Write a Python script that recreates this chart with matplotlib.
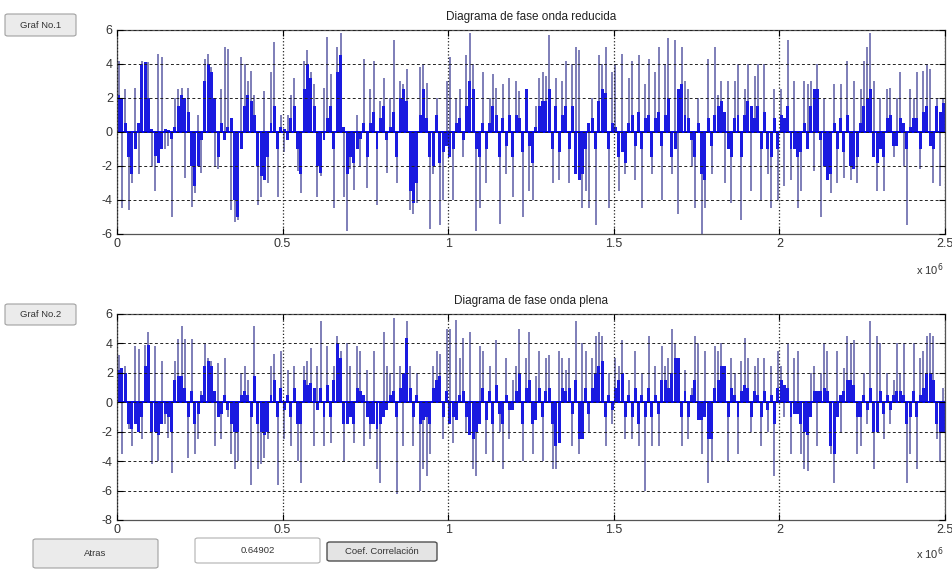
import numpy as np
import matplotlib
matplotlib.use('Agg')
import matplotlib.pyplot as plt
from matplotlib.patches import FancyBboxPatch
from matplotlib.ticker import FuncFormatter

plt.rcParams['font.family'] = ['Liberation Sans', 'DejaVu Sans']
plt.rcParams['axes.unicode_minus'] = False

# muestras cada 10000 puntos, 250 por señal
paso = 1e4

# onda reducida: cuerpo (zona densa) y picos sueltos
red_cuerpo = [
    2.2, 2.0, 0.5, -1.5, -2.5, -1.0, 0.5, 4.0, 4.1, 2.0, 0.2, -1.4, -1.8, -1.0, 0.2, 0.1, -0.4, 0.3, 1.5, 2.2, 2.0, 1.2, -2.0, -3.2, -2.0,
    -0.5, 3.0, 4.0, 3.5, 2.0, -1.5, 0.5, -0.5, 0.3, 0.8, -4.0, -5.0, -1.0, 1.5, 2.2, 1.8, 1.0, -2.0, -2.6, -2.8, -1.5, 0.5, 1.5, -1.0, 0.3,
    0.2, -0.5, 0.8, 1.5, -1.0, -2.5, 2.5, 4.0, 3.2, 1.5, -2.0, -2.4, -0.5, 0.8, 1.5, -1.0, 3.5, 4.5, 0.3, -2.5, -1.5, -1.8, -1.0, -0.4, 0.5,
    -1.5, 0.5, 1.2, -1.0, 0.8, 1.5, -0.5, 0.3, 1.2, -1.5, 2.0, 2.5, 1.8, -3.5, -4.2, -3.0, 1.0, 2.5, 0.8, -1.5, -2.0, 1.0, -1.8, -1.2, -0.8,
    -1.5, -1.0, 0.5, 0.8, -0.5, 1.5, 3.0, 2.5, -1.0, -1.5, 0.5, -1.0, 0.5, 1.5, 1.0, -1.5, 0.8, -0.8, 1.0, -1.5, 1.0, 0.8, -1.2, 2.5, -0.8,
    -1.8, 0.3, 1.5, 1.8, 1.8, 2.5, -1.0, 1.5, -1.2, 1.0, 1.5, -1.0, 1.5, -2.5, -2.8, -2.5, -1.0, 0.5, 0.8, -1.0, 1.8, 2.5, 2.3, -1.0, 0.5,
    0.3, -1.5, -1.2, -1.8, 0.5, 1.0, -0.8, 1.2, -1.0, 0.8, 1.0, -1.5, 0.8, 1.2, -0.8, 1.0, 2.0, -1.5, -1.0, 2.5, 2.8, 1.0, 0.8, -0.5, -1.5,
    0.5, -2.5, -2.8, 0.8, -0.8, 1.0, 1.5, 1.8, 1.2, -1.0, -1.5, 0.8, 1.0, -1.5, 1.0, 1.8, 1.5, 0.8, 1.5, -1.0, 1.2, -1.0, -1.5, 0.8, -1.0,
    1.0, 0.8, 1.5, -1.0, -1.0, -1.5, -1.2, 0.5, -1.0, 1.5, 2.5, 2.5, -0.5, -2.0, -2.8, -2.5, 0.5, -1.0, 0.8, -1.2, 1.0, -2.0, -2.2, -1.5, 0.5,
    1.5, 2.0, 2.5, -1.5, -1.8, -1.0, -1.5, 0.8, 1.0, -0.8, -0.8, 0.8, 0.5, -1.0, 0.3, 0.8, 0.8, -1.0, 1.2, 1.5, -0.8, -1.0, 1.5, 1.2, 1.7,
]
red_pico = [
    4.2, -4.5, 2.5, -4.6, -3.0, 2.6, -2.5, 4.2, 1.4, 4.1, -2.0, -3.5, 4.6, 4.4, -1.0, -0.8, -5.0, 2.0, 2.5, 2.6, -2.7, 2.6, -4.4, -3.6, 1.0,
    -2.4, 4.3, 4.6, 3.8, -2.0, -2.2, 2.5, 5.0, 4.9, -4.6, -5.3, -5.2, 4.4, 4.0, 3.0, 3.6, 2.2, -4.3, -3.8, 2.4, -3.0, 3.5, 5.3, -3.8, 1.0,
    -1.2, 1.0, 2.2, 3.2, -2.3, -3.6, 4.2, 4.8, 3.5, 2.8, -3.8, -2.6, 2.6, 5.6, 3.4, -4.5, 5.0, 5.8, -3.8, -5.8, -2.2, -3.4, 1.0, -2.0, 4.3,
    -3.3, 2.5, 4.2, -4.3, 1.8, 3.2, -2.4, 2.0, 5.4, -3.0, 3.0, 2.8, 3.7, -4.6, -4.8, -4.2, 3.8, 4.0, 2.9, -5.7, -2.5, 2.0, -5.5, -4.0, 3.0,
    4.4, -4.0, 2.0, 2.5, -1.5, 4.5, 5.8, 4.0, -5.8, -4.5, 3.5, -3.0, 2.0, 3.4, 2.6, -5.4, 2.8, -2.5, 3.2, -3.8, 3.0, 2.4, -5.0, 2.5, -3.5,
    -4.0, 1.5, 3.2, 3.5, 3.3, 5.7, -3.0, 3.2, -2.8, 3.0, 4.2, -3.0, 4.0, 5.0, 4.8, -4.5, -3.5, -4.5, 2.0, -5.5, 4.5, 4.0, 5.0, -4.5, 3.5,
    4.0, -3.5, 4.6, -2.5, 3.2, 4.2, -2.8, 4.5, -4.5, 2.8, 4.3, -2.5, 3.5, 5.0, -4.0, 4.0, 5.5, -2.5, 5.4, -4.8, 5.0, 3.0, 2.5, -2.0, -4.5,
    2.0, -6.0, -4.5, 4.3, -2.5, 5.0, 2.2, 3.0, -3.0, 3.0, -4.2, 3.0, 4.0, -5.2, 2.5, 4.0, -3.5, 3.3, 4.0, -4.0, 4.0, -2.5, -4.5, 2.5, -4.0,
    2.5, -3.2, 5.4, -2.8, 3.0, -4.5, -3.5, 3.0, 2.8, 3.0, -2.3, 4.0, -5.0, 2.0, -2.8, -3.6, 2.8, -3.0, 2.8, -2.7, 4.2, -2.8, 3.0, -3.0, 2.5,
    4.2, 5.0, 5.8, 3.0, -3.5, 2.0, -3.5, 2.5, 2.6, -1.5, 2.0, 3.5, -2.0, -5.5, 2.5, 2.0, 3.5, -2.2, 3.6, 4.0, 3.7, -3.0, 2.0, -3.2, 2.0,
]

# onda plena
plena_cuerpo = [
    2.2, 2.3, 2.0, -1.5, -1.8, -1.5, -2.0, -1.0, 2.5, 3.9, -2.0, -2.0, -2.2, -1.5, -0.8, -1.0, -2.0, 1.5, 1.8, 1.8, 1.0, -1.0, 0.8, -1.5, -0.8,
    0.5, 2.5, 2.8, 2.5, 0.8, -1.0, -0.8, 0.5, -0.5, -1.5, -2.0, -2.0, 0.5, 0.8, 0.5, -1.0, 1.8, -1.5, -2.0, -2.2, -2.0, 0.5, 1.5, -1.0, 1.0,
    -0.5, 0.5, -1.0, 1.0, -1.5, -1.5, 1.5, 1.2, 1.3, 1.0, -0.5, 1.0, -1.0, 1.2, -1.0, 1.5, 4.0, 3.0, -1.5, -1.5, -1.0, -1.5, 1.0, 0.8, 0.5,
    -1.0, -1.5, -1.5, -1.8, -1.5, -1.0, -0.5, 0.5, 0.8, -1.0, 1.0, 2.0, 4.4, 1.0, -1.0, 0.5, -1.5, -1.2, -1.0, -1.5, 1.0, 1.5, 1.8, -1.0, 0.8,
    -1.5, -1.0, -1.2, 0.5, 0.8, -1.0, -2.2, -2.5, -2.0, -1.5, 1.0, -1.2, 0.8, -1.5, 1.2, -0.8, -1.5, 0.5, -0.5, -0.5, 0.8, 2.0, -1.5, 1.0, 1.5,
    -1.5, -1.2, 1.0, -1.0, 0.8, 1.0, -1.5, -3.0, -2.8, 1.0, 0.8, 1.0, -0.8, 1.5, -2.5, -2.5, 1.0, -0.8, 1.0, 2.0, 2.5, 2.8, -1.0, 0.5, -0.5,
    1.0, 1.5, 2.0, -1.0, 0.5, -1.0, 1.0, -1.5, 0.5, -1.0, 1.0, -1.0, 0.5, -0.8, 1.5, 1.5, 1.0, 2.0, 3.0, 3.0, -1.0, 0.8, -1.0, 0.5, 1.5,
    -1.2, -1.2, -1.0, -2.5, -2.5, 1.0, 1.5, 2.5, 2.5, -1.0, 1.0, 0.5, -1.0, 0.8, 1.2, 1.0, -1.0, 0.8, 0.5, -1.0, 0.8, -0.5, 0.5, -1.5, 1.0,
    1.5, 1.2, 1.0, -1.0, -0.8, -0.8, -1.5, -2.0, -2.2, -1.0, 0.8, 0.8, 0.8, 1.0, 0.8, -3.0, -3.5, -1.0, 0.5, 0.8, 1.5, 1.5, 1.2, -1.0, -1.0,
    0.5, -0.5, 1.0, -2.0, -2.0, 0.8, -0.8, 0.5, -0.5, 0.5, 0.8, 0.8, 0.5, -1.5, -1.0, 0.8, -1.0, 0.5, 1.0, 2.0, 2.0, 1.5, -1.5, -2.0, -2.0,
]
plena_pico = [
    3.2, -3.5, 2.5, -1.8, -3.0, 3.8, 3.6, -2.5, 3.9, 4.8, -4.2, 3.8, -4.0, 2.8, -1.5, -2.4, -4.8, 2.8, 4.3, 5.2, 4.3, -3.8, 4.3, -3.5, -2.5,
    0.8, 4.0, 3.0, 2.8, -3.0, 2.7, -2.5, 3.0, -1.0, -3.5, -4.5, -4.0, 2.0, 2.5, 1.5, -5.6, 5.2, -4.5, -4.2, -3.8, -2.5, 2.5, 3.3, -5.6, 3.5,
    -2.5, 2.2, -3.0, 2.5, -4.0, -5.5, 2.5, 2.8, 3.7, -3.0, 2.5, 5.5, -3.0, 3.8, -2.8, 2.5, 4.5, 3.5, -4.0, 4.0, 2.5, -2.8, 3.8, 3.5, -3.0,
    2.2, -2.5, 3.5, -4.5, -5.5, 4.8, 2.5, 2.0, 5.7, -6.2, 2.5, -3.0, 5.5, 2.5, -3.0, 2.0, -6.0, -4.5, -5.0, -3.5, 2.5, 3.5, 3.3, -2.5, 5.0,
    5.0, -2.8, 5.6, 3.0, 4.4, -2.0, 4.8, -4.5, -5.0, 3.8, 3.5, -3.5, 2.5, -4.0, 4.2, -2.0, -4.5, 3.0, -2.5, 1.5, 2.5, 5.0, -4.0, 3.0, 4.8,
    -3.5, 1.8, 3.5, -4.0, 3.0, 3.2, -4.5, -4.5, 3.5, 3.0, 2.2, 3.0, -3.0, 5.5, -3.5, 4.0, 3.5, -2.0, 3.0, 4.5, 4.8, 4.5, -3.0, 2.0, -1.5,
    3.0, 2.5, 4.2, -2.5, 1.5, -2.5, 3.5, -3.0, 2.0, -6.0, 4.5, -3.0, 2.5, -3.0, 3.8, 2.5, 3.0, 5.0, 4.0, 2.8, -3.0, 2.2, -2.5, 1.0, 4.5,
    4.0, -3.5, 3.5, -5.5, -4.0, 3.8, 3.5, 4.0, 2.0, -4.0, 3.0, 2.0, -3.5, 2.8, 4.4, 3.0, -2.0, 2.5, 3.0, -3.0, 3.0, -2.0, 2.5, -5.0, 3.5,
    2.5, -1.0, 4.0, -3.5, 3.0, 3.5, -3.5, -4.5, -4.7, 2.0, 2.5, -3.0, 2.0, 4.0, 3.5, -3.5, -5.5, 3.5, -2.0, 2.3, 4.5, 4.0, 4.2, -3.5, -3.0,
    2.0, -1.5, 5.5, -4.5, 4.5, 4.0, -2.5, 2.0, -1.5, 1.5, 4.0, 2.0, 4.0, -5.5, -3.5, 4.0, -4.5, 3.0, 3.5, 4.5, 4.7, 4.5, -2.5, -4.0, 1.0,
]

titulos = ['Diagrama de fase onda reducida', 'Diagrama de fase onda plena']
limites_y = [(-6, 6), (-8, 6)]
marcas_x = [0, 0.5e6, 1e6, 1.5e6, 2e6, 2.5e6]
botones_graf = ['Graf No.1', 'Graf No.2']
coef = 0.64902

W, H = 953, 569
fig = plt.figure(figsize=(W / 100, H / 100), dpi=100)
fig.patch.set_facecolor('white')


def caja(px, py, pw, ph):
    # caja en pixeles (desde arriba a la izquierda) -> fraccion de figura
    return [px / W, 1 - (py + ph) / H, pw / W, ph / H]


def boton(px, py, pw, ph, texto, fondo='#ebebeb', borde='#a0a0a0', lw=0.8):
    x0, y0, w, h = caja(px, py, pw, ph)
    fig.add_artist(FancyBboxPatch((x0, y0), w, h, boxstyle='round,pad=0,rounding_size=0.003',
                                  transform=fig.transFigure, fc=fondo, ec=borde, lw=lw))
    fig.text(x0 + w / 2, y0 + h / 2, texto, ha='center', va='center', fontsize=6.8, color='#333333')


ejes = [fig.add_axes(caja(117, 30, 828, 204)), fig.add_axes(caja(117, 314, 828, 206))]
series = [(red_cuerpo, red_pico), (plena_cuerpo, plena_pico)]
bajada_exp = [-20, -18]

for ax, (cuerpo, pico), titulo, ylim, dy in zip(ejes, series, titulos, limites_y, bajada_exp):
    cuerpo = np.asarray(cuerpo)
    pico = np.asarray(pico)
    x = np.arange(len(pico)) * paso + paso / 2
    ax.vlines(x, 0, pico, colors='#7474b2', linewidth=1.3, zorder=1)
    ax.bar(x, cuerpo, width=0.9 * paso, color='#1a1ae0', linewidth=0, zorder=1.5)
    ax.axhline(0, color='#0000ee', lw=1.4, zorder=2)

    ax.set_xlim(0, 2.5e6)
    ax.set_ylim(*ylim)
    ax.set_xticks(marcas_x)
    ax.set_yticks(np.arange(ylim[0], ylim[1] + 1, 2))
    ax.xaxis.set_major_formatter(FuncFormatter(lambda v, p: f'{v / 1e6:g}'))
    ax.set_axisbelow(False)
    ax.grid(axis='y', linestyle=(0, (3, 2.5)), color='#222222', lw=0.7)
    ax.grid(axis='x', linestyle=':', color='#222222', lw=0.9)
    ax.tick_params(direction='in', length=4, labelsize=9, labelcolor='#333333',
                   top=True, right=True, pad=3)
    for s in ax.spines.values():
        s.set_color('#555555')
        s.set_linewidth(0.9)
    ax.set_title(titulo, fontsize=8.5, color='#222222', pad=7)
    ax.annotate(r'x 10$^{6}$', xy=(1, 0), xycoords='axes fraction', xytext=(-1, dy),
                textcoords='offset points', ha='right', va='top', fontsize=8, color='#333333')

boton(5, 14, 71, 22, botones_graf[0])
boton(5, 304, 71, 21, botones_graf[1])
boton(33, 539, 125, 29, 'Atras')
boton(195, 538, 125, 25, f'{coef:g}', fondo='white', borde='#b0b0b0')
boton(327, 542, 110, 19, 'Coef. Correlación', fondo='#e4e4e4', borde='#505050', lw=1.0)

fig.savefig('out.png', dpi=100)
